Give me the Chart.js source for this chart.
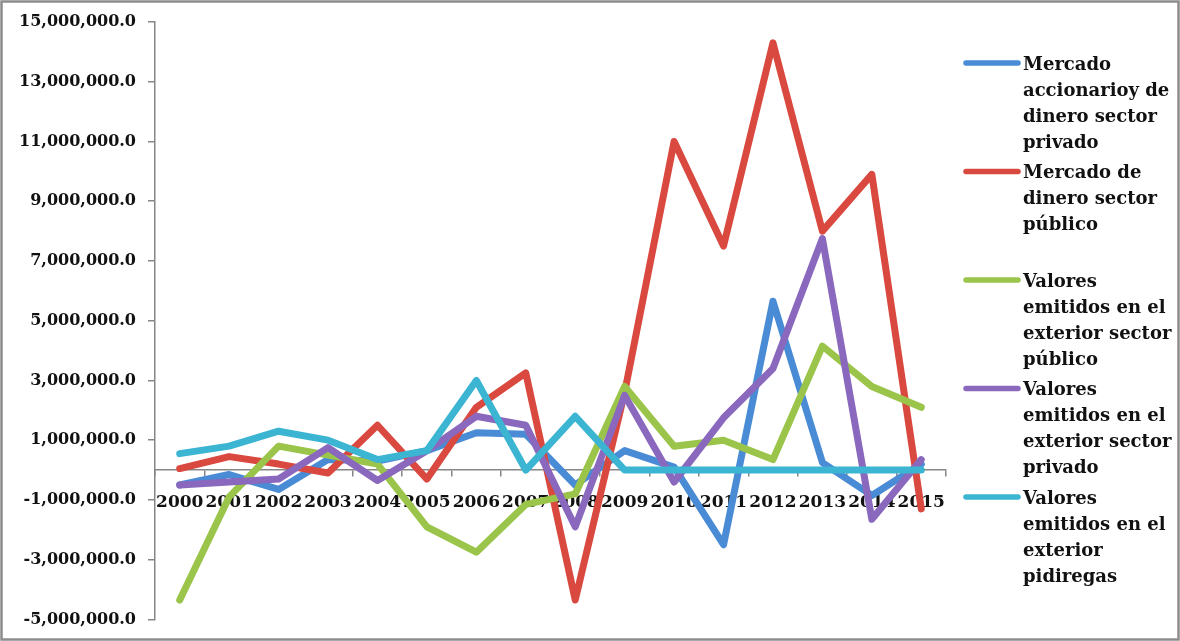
<!DOCTYPE html>
<html>
<head>
<meta charset="utf-8">
<script src="https://cdn.jsdelivr.net/npm/chart.js@4"></script>
<style>
  html, body { margin: 0; padding: 0; background: #fff; }
  #chart { display: block; }
</style>
</head>
<body>
<canvas id="chart" width="1180" height="641"></canvas>
<script>
const years = ['2000', '2001', '2002', '2003', '2004', '2005', '2006', '2007',
  '2008', '2009', '2010', '2011', '2012', '2013', '2014', '2015']

// valores (aprox.)
const accionarioPrivado = [-500000, -150000, -650000, 350000, 300000, 650000, 1250000, 1200000,
  -500000, 650000, 100000, -2500000, 5650000, 250000, -850000, 200000]
const dineroPublico = [50000, 450000, 200000, -100000, 1500000, -300000, 2100000, 3250000,
  -4350000, 2600000, 11000000, 7500000, 14300000, 8000000, 9900000, -1300000]
const exteriorPublico = [-4350000, -900000, 800000, 500000, 200000, -1900000, -2750000, -1150000,
  -800000, 2800000, 800000, 1000000, 350000, 4150000, 2800000, 2100000]
const exteriorPrivado = [-500000, -400000, -300000, 750000, -350000, 650000, 1800000, 1500000,
  -1900000, 2500000, -400000, 1750000, 3400000, 7750000, -1650000, 350000]
const pidiregas = [550000, 800000, 1300000, 1000000, 350000, 650000, 3000000, 0,
  1800000, 0, 0, 0, 0, 0, 0, 0]

const seriesNames = [
  'Mercado accionarioy de dinero sector privado',
  'Mercado de dinero sector público',
  'Valores emitidos en el exterior sector público',
  'Valores emitidos en el exterior sector privado',
  'Valores emitidos en el exterior pidiregas',
]
const legendLines = [
  ['Mercado', 'accionarioy de', 'dinero sector', 'privado'],
  ['Mercado de', 'dinero sector', 'público'],
  ['Valores', 'emitidos en el', 'exterior sector', 'público'],
  ['Valores', 'emitidos en el', 'exterior sector', 'privado'],
  ['Valores', 'emitidos en el', 'exterior', 'pidiregas'],
]
const colors = ['#4a8bd6', '#d9493f', '#9ac54a', '#8a68bd', '#3cb5d2']

const yMin = -5000000
const yMax = 15000000
const yStep = 2000000

const serif = '"DejaVu Serif", "Liberation Serif", serif'
const axisGray = '#868686'

const allValues = [accionarioPrivado, dineroPublico, exteriorPublico, exteriorPrivado, pidiregas]

const datasets = allValues.map((values, i) => ({
  label: seriesNames[i],
  data: values,
  borderColor: colors[i],
  backgroundColor: colors[i],
  borderWidth: 7,
  borderJoinStyle: 'round',
  borderCapStyle: 'round',
  pointRadius: 0,
  tension: 0,
  // excel pinta la ultima serie encima
  order: allValues.length - i,
}))

const sideLegend = {
  id: 'sideLegend',
  afterDraw (chart) {
    const ctx = chart.ctx
    ctx.save()
    ctx.font = 'bold 18px ' + serif
    ctx.textBaseline = 'middle'
    ctx.textAlign = 'left'
    legendLines.forEach((lines, i) => {
      const y = 63 + i * 108.5
      ctx.strokeStyle = colors[i]
      ctx.lineWidth = 5.5
      ctx.lineCap = 'round'
      ctx.beginPath()
      ctx.moveTo(966, y)
      ctx.lineTo(1018, y)
      ctx.stroke()
      ctx.fillStyle = '#111'
      lines.forEach((line, j) => {
        ctx.fillText(line, 1023, y + 2 + j * 26)
      })
    })
    ctx.restore()
  }
}

const frame = {
  id: 'frame',
  afterDraw (chart) {
    const ctx = chart.ctx
    ctx.save()
    ctx.strokeStyle = '#8c8c8c'
    ctx.lineWidth = 2.5
    ctx.strokeRect(1.5, 1.5, chart.width - 3, chart.height - 3)
    ctx.restore()
  }
}

const formatTick = value => value.toLocaleString('en-US', { minimumFractionDigits: 1, maximumFractionDigits: 1 })

new Chart(document.getElementById('chart').getContext('2d'), {
  type: 'line',
  data: { labels: years, datasets: datasets },
  options: {
    responsive: false,
    animation: false,
    devicePixelRatio: 1,
    layout: { padding: { left: 8, right: 234, top: 22, bottom: 19 } },
    plugins: {
      legend: { display: false },
      tooltip: { enabled: false },
    },
    scales: {
      x: {
        type: 'category',
        offset: true,
        position: { y: 0 },
        grid: { drawOnChartArea: false, drawTicks: true, tickLength: 6, color: axisGray, lineWidth: 1.5, offset: true },
        border: { display: true, color: axisGray, width: 1.5 },
        ticks: { color: '#111', font: { family: serif, size: 17, weight: 'bold' }, padding: 16, maxRotation: 0, autoSkip: false },
      },
      y: {
        min: yMin,
        max: yMax,
        afterFit (scale) { scale.width = 147 },
        grid: { drawOnChartArea: false, drawTicks: true, tickLength: 7, color: axisGray, lineWidth: 1.5 },
        border: { display: true, color: axisGray, width: 1.5 },
        ticks: {
          stepSize: yStep,
          color: '#111',
          padding: 12,
          font: { family: serif, size: 16, weight: 'bold' },
          callback: formatTick,
        },
      },
    },
  },
  plugins: [sideLegend, frame],
})
</script>
</body>
</html>
